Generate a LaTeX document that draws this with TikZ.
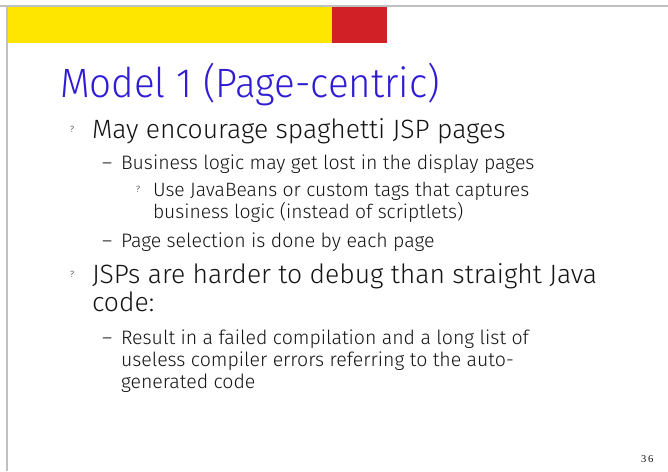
\documentclass[tikz,border=0pt]{standalone}
\usepackage{fontspec}
\setmainfont{Fira Sans Light}
\newfontfamily\titlefont{Fira Sans Light}[FakeStretch=0.94]
\newfontfamily\numfont{Liberation Serif}
\definecolor{framegray}{RGB}{192,192,192}
\definecolor{baryellow}{RGB}{255,230,0}
\definecolor{barred}{RGB}{210,33,38}
\definecolor{titleblue}{RGB}{48,28,214}
\definecolor{bodytext}{RGB}{20,20,20}
\tikzset{
  txt/.style={anchor=base west, inner sep=0pt, outer sep=0pt, text=bodytext},
  titletxt/.style={txt, text=titleblue, font=\titlefont\fontsize{41}{45}\selectfont},
  lvlone/.style={txt, font=\fontsize{26.5}{30}\selectfont},
  lvltwo/.style={txt, font=\fontsize{19.5}{23}\selectfont},
  lvlthree/.style={txt, font=\fontsize{19.3}{22}\selectfont},
  qmark/.style={txt, font=\fontsize{9}{10}\selectfont},
  dashmark/.style={txt, font=\fontsize{19.5}{23}\selectfont},
}
\begin{document}
\begin{tikzpicture}[x=1pt,y=-1pt]
  \useasboundingbox (0,0) rectangle (668,471);
  \fill[white] (0,0) rectangle (668,471);
  % frame lines
  \draw[framegray, line width=2pt] (0,5.7) -- (668,5.7);
  \draw[framegray, line width=1.8pt] (6.8,5) -- (6.8,471);
  % header bars
  \fill[baryellow] (7.7,6.7) rectangle (332,43);
  \fill[barred] (332,6.7) rectangle (387,43);
  % title
  \node[titletxt] (title) at (60,97) {Model 1 (Page-centric)};
  % first bullet group
  \node[qmark] (q1) at (70,132) {?};
  \node[lvlone] (b1) at (92,138) {May encourage spaghetti JSP pages};
  \node[dashmark] (d1) at (102,169) {–};
  \node[lvltwo] (b11) at (121,169) {Business logic may get lost in the display pages};
  \node[qmark] (q11) at (136,192) {?};
  \node[lvlthree] (b111) at (153,196) {Use JavaBeans or custom tags that captures};
  \node[lvlthree] (b111b) at (153,218) {business logic (instead of scriptlets)};
  \node[dashmark] (d2) at (102,247) {–};
  \node[lvltwo] (b12) at (121,247) {Page selection is done by each page};
  % second bullet group
  \node[qmark] (q2) at (70,277) {?};
  \node[lvlone] (b2) at (92,283) {JSPs are harder to debug than straight Java};
  \node[lvlone] (b2b) at (92,311) {code:};
  \node[dashmark] (d3) at (102,344) {–};
  \node[lvltwo] (b21) at (121,344) {Result in a failed compilation and a long list of};
  \node[lvltwo] (b21b) at (121,366) {useless compiler errors referring to the auto-};
  \node[lvltwo] (b21c) at (121,388) {generated code};
  % page number
  \node[txt, font=\numfont\fontsize{10.5}{12}\selectfont] (pg) at (641,462) {3\,6};
\end{tikzpicture}
\end{document}
